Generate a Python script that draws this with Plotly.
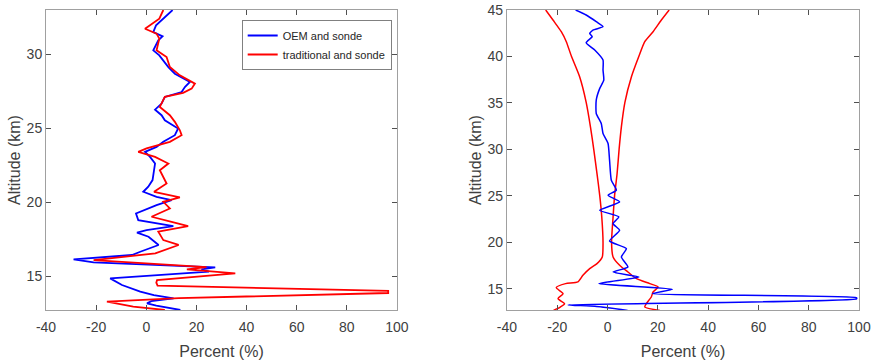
import plotly.graph_objects as go

# ---------------- Data ----------------
# Left panel: OEM and sonde (blue)
alt_oem_left = [33.0, 32.41, 31.96, 31.51, 31.22, 30.95, 30.27, 29.93, 29.59, 29.14, 28.69, 28.13,
                27.79, 27.45, 27.12, 26.67, 26.26, 25.88, 25.54, 24.98, 24.53, 24.08, 23.74, 23.40,
                23.06, 22.61, 22.16, 21.49, 21.04, 20.70, 20.36, 20.14, 19.80, 19.23, 18.78, 18.56,
                18.38, 18.11, 17.93, 17.66, 17.10, 16.64, 16.42, 16.13, 15.92, 15.74, 15.58, 15.45,
                15.30, 14.84, 14.60, 14.39, 13.94, 13.70, 13.49, 13.30, 13.15, 13.00, 12.70]
pct_oem_left = [10.5, 6.8, 3.9, 2.8, 6.5, 4.8, 2.8, 5.2, 6.8, 8.8, 11.4, 17.4,
                15.4, 14.1, 7.4, 6.1, 3.5, 6.1, 7.4, 12.7, 11.4, 6.8, 4.1, -0.5,
                1.5, 3.5, 3.1, 2.5, 0.8, -1.2, 4.1, 10.1, 4.1, -4.1, -3.2, 4.1,
                10.8, 0.1, -3.7, 0.9, 4.9, -2.4, -5.7, -29.0, -21.0, 5.6, 27.5, 22.0,
                25.0, -14.4, -12.0, -9.7, -2.4, 3.0, 10.9, 2.0, 0.3, 4.0, 13.6]

# Left panel: traditional and sonde (red)
alt_trad_left = [33.0, 32.41, 31.73, 31.40, 31.06, 30.27, 29.82, 29.14, 28.58, 28.02, 27.68, 27.39,
                 27.12, 26.44, 25.88, 25.43, 24.86, 24.53, 24.08, 23.63, 23.40, 23.06, 22.61, 22.16,
                 21.26, 20.70, 20.32, 20.02, 19.57, 19.01, 18.67, 18.38, 18.00, 17.43, 17.10, 16.53,
                 16.08, 15.74, 15.60, 15.45, 15.18, 14.73, 14.55, 14.35, 14.00, 13.85, 13.50,
                 13.26, 12.93, 12.70]
pct_trad_left = [6.8, 5.2, -0.5, 4.1, 5.2, 4.1, 8.1, 9.4, 13.4, 19.4, 18.1, 14.7,
                 7.4, 5.4, 9.4, 11.4, 13.4, 14.1, 9.4, 0.1, -3.2, 3.5, 8.8, 5.4,
                 8.1, 3.1, 13.4, 6.8, 9.4, 2.1, 10.1, 16.7, 4.8, 6.8, 12.9, 3.6,
                 -21.0, 10.0, 24.0, 16.2, 35.5, 4.3, 4.0, 4.5, 96.5, 96.5, 13.0,
                 -15.7, -5.2, 7.4]

# Right panel: OEM and sonde (blue)
alt_oem_right = [45.0, 44.46, 43.74, 43.20, 42.84, 42.48, 42.13, 41.48, 40.69, 39.61, 38.53, 37.45,
                 36.56, 35.30, 33.86, 32.78, 31.71, 30.63, 28.83, 26.67, 25.60, 25.06, 24.34, 23.44,
                 22.72, 22.00, 21.28, 20.13, 19.31, 18.41, 17.33, 16.79, 16.25, 15.54, 14.93, 14.46,
                 14.03, 13.90, 13.25, 13.10, 12.66]
pct_oem_right = [-12.7, -8.5, -4.5, -1.8, -5.8, -7.1, -6.1, -8.5, -5.1, -1.8, -1.8, -1.5,
                 -3.1, -4.5, -4.5, -2.5, -1.8, 0.2, 0.8, 1.5, 3.5, 0.2, 4.8, -3.1,
                 4.5, 2.2, 4.8, 0.8, 7.5, 5.5, 8.1, 2.2, 12.5, -3.4, 25.8, 17.9,
                 99.0, 99.0, -15.7, -5.0, 8.0]

# Right panel: traditional and sonde (red), lower and upper bounds
alt_trad_right = [45.0, 43.92, 42.66, 41.59, 40.04, 37.81, 35.05, 32.42, 30.02, 27.39, 25.02, 22.72,
                  19.99, 18.41, 17.69, 17.15, 16.43, 15.72, 15.54, 15.11, 14.46, 13.92, 13.38, 13.02,
                  12.66]
pct_trad_right_lo = [-24.6, -21.7, -18.4, -16.4, -14.4, -11.1, -8.5, -6.8, -5.5, -4.2, -3.1, -2.3,
                     -1.8, -2.1, -4.2, -7.1, -9.8, -11.8, -16.7, -20.4, -17.7, -19.7, -17.1, -18.8,
                     -21.5]
alt_trad_right_hi = [45.0, 43.92, 42.66, 41.59, 40.04, 37.81, 35.05, 32.42, 30.02, 27.39, 25.02, 22.72,
                     19.99, 18.41, 17.51, 16.79, 16.07, 15.54, 15.18, 14.64, 14.10, 13.38, 13.02, 12.66]
pct_trad_right_hi = [24.5, 21.4, 18.1, 14.8, 12.5, 9.5, 6.9, 5.5, 4.6, 3.8, 2.8, 2.2,
                     1.6, 2.2, 4.8, 8.1, 11.5, 16.8, 20.1, 18.1, 17.4, 15.4, 14.8, 20.8]

x_ticks = [-40, -20, 0, 20, 40, 60, 80, 100]
x_tick_labels = ["-40", "-20", "0", "20", "40", "60", "80", "100"]
y_ticks_left = [15, 20, 25, 30]
y_ticks_right = [15, 20, 25, 30, 35, 40, 45]

BLUE = "#0000ff"
RED = "#ff0000"
FONT = "Liberation Sans, Arial, sans-serif"
TXT = "#404040"

fig = go.Figure()
fig.add_trace(go.Scatter(x=pct_oem_left, y=alt_oem_left, mode="lines", name="OEM and sonde",
                         line=dict(color=BLUE, width=1.8), xaxis="x", yaxis="y"))
fig.add_trace(go.Scatter(x=pct_trad_left, y=alt_trad_left, mode="lines", name="traditional and sonde",
                         line=dict(color=RED, width=1.8), xaxis="x", yaxis="y"))
fig.add_trace(go.Scatter(x=pct_trad_right_lo, y=alt_trad_right, mode="lines", showlegend=False,
                         line=dict(color=RED, width=1.5, shape="spline", smoothing=0.6),
                         xaxis="x2", yaxis="y2"))
fig.add_trace(go.Scatter(x=pct_trad_right_hi, y=alt_trad_right_hi, mode="lines", showlegend=False,
                         line=dict(color=RED, width=1.5, shape="spline", smoothing=0.6),
                         xaxis="x2", yaxis="y2"))
fig.add_trace(go.Scatter(x=pct_oem_right, y=alt_oem_right, mode="lines", showlegend=False,
                         line=dict(color=BLUE, width=1.5, shape="spline", smoothing=0.5),
                         xaxis="x2", yaxis="y2"))

axis_common = dict(showline=True, linecolor="#a0a0a0", linewidth=1, mirror="allticks",
                   ticks="inside", ticklen=5, tickcolor="#505050", showgrid=False, zeroline=False,
                   tickfont=dict(family=FONT, size=14, color=TXT), automargin=False,
                   ticklabeloverflow="allow")
title_font = dict(family=FONT, size=16, color=TXT)

fig.update_layout(
    width=871, height=362,
    margin=dict(l=46, r=12, t=10, b=52),
    paper_bgcolor="white", plot_bgcolor="white",
    font=dict(family=FONT, color=TXT),
    xaxis=dict(domain=[0, 0.4317], range=[-40, 100], tickvals=x_ticks, ticktext=x_tick_labels,
               anchor="y", ticklabelstandoff=4,
               title=dict(text="Percent (%)", font=title_font, standoff=12),
               **axis_common),
    yaxis=dict(domain=[0, 1], range=[12.7, 33], tickvals=y_ticks_left, anchor="x",
               title=dict(text="Altitude (km)", font=title_font, standoff=2),
               **axis_common),
    xaxis2=dict(domain=[0.567, 1], range=[-40, 100], tickvals=x_ticks, ticktext=x_tick_labels,
                anchor="y2", ticklabelstandoff=4,
                title=dict(text="Percent (%)", font=title_font, standoff=12),
                **axis_common),
    yaxis2=dict(domain=[0, 1], range=[12.7, 45], tickvals=y_ticks_right, anchor="x2",
                title=dict(text="Altitude (km)", font=title_font, standoff=1),
                **axis_common),
    legend=dict(x=0.2407, y=0.9667, xanchor="left", yanchor="top", bgcolor="white",
                bordercolor="#808080", borderwidth=1, itemwidth=30, tracegroupgap=0,
                font=dict(family=FONT, size=11, color="#262626")),
    showlegend=True,
)

fig.write_html("out.html")
